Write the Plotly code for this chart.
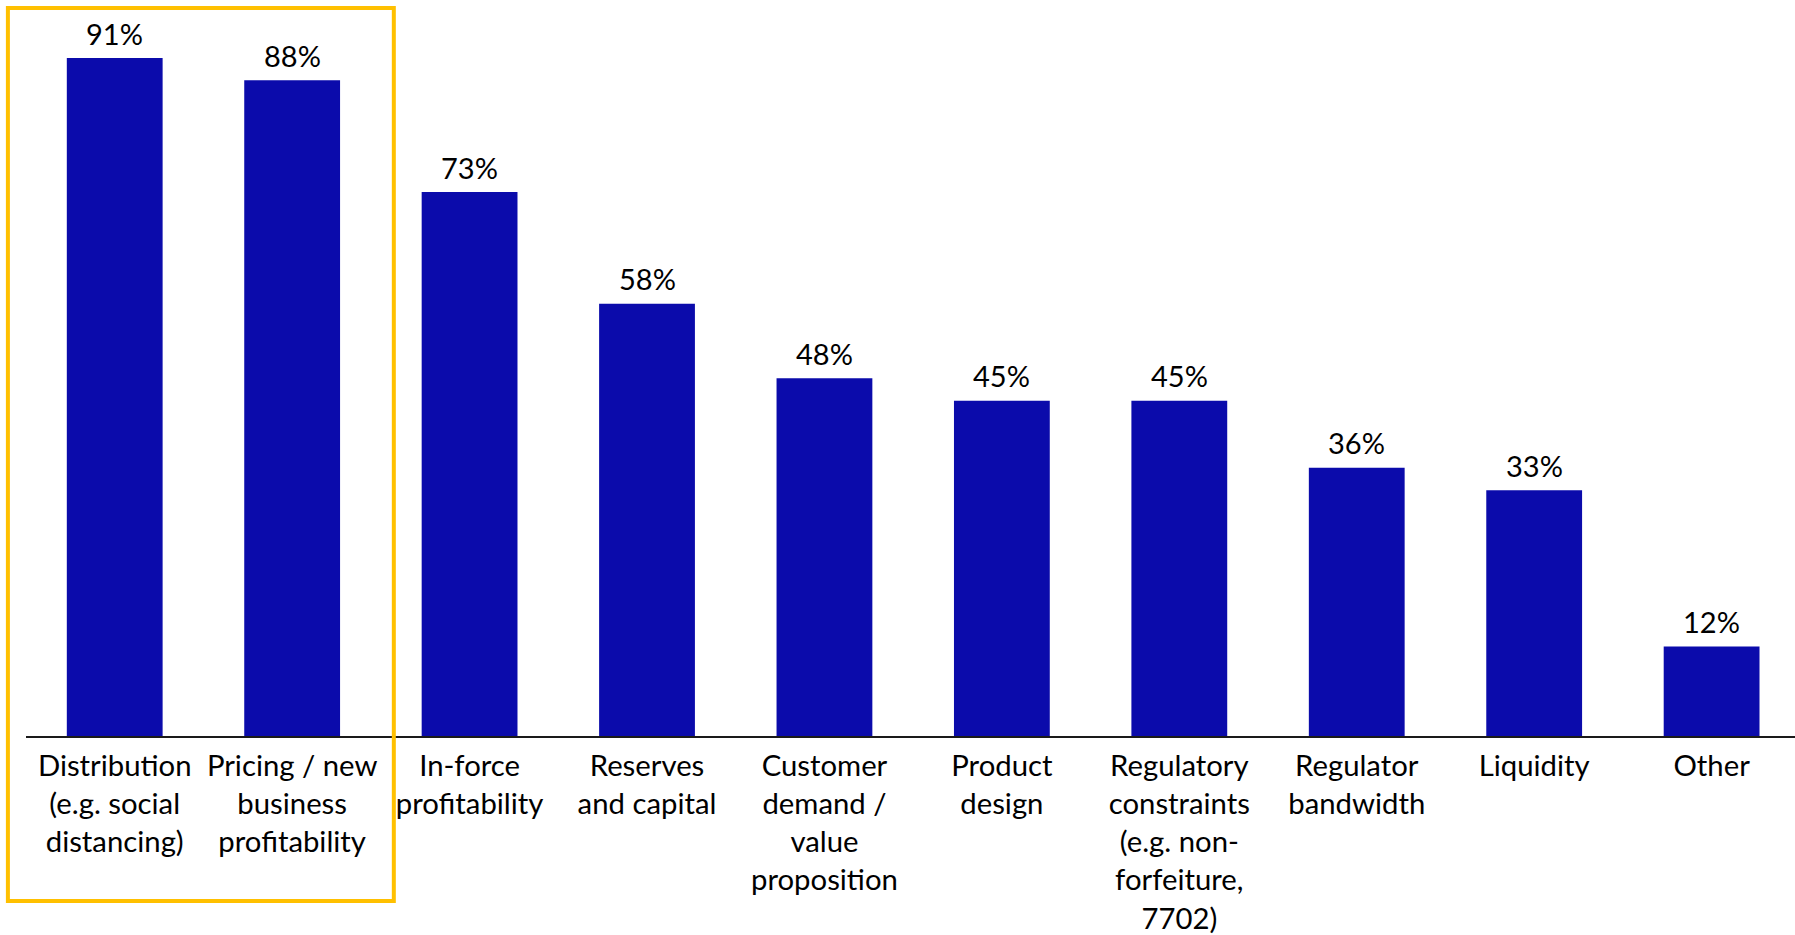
import plotly.graph_objects as go

categories = [
    "Distribution<br>(e.g. social<br>distancing)",
    "Pricing / new<br>business<br>profitability",
    "In-force<br>profitability",
    "Reserves<br>and capital",
    "Customer<br>demand /<br>value<br>proposition",
    "Product<br>design",
    "Regulatory<br>constraints<br>(e.g. non-<br>forfeiture,<br>7702)",
    "Regulator<br>bandwidth",
    "Liquidity",
    "Other",
]
values = [91, 88, 73, 58, 48, 45, 45, 36, 33, 12]
highlighted = 2  # first two categories boxed

BAR_COLOR = "#0B0BAB"
BOX_COLOR = "#FFC000"
FONT = "Lato, 'Open Sans', sans-serif"

idx = list(range(len(categories)))
x_lo, x_hi = -0.5, len(categories) - 0.53
span = x_hi - x_lo

fig = go.Figure(
    go.Bar(
        x=idx,
        y=values,
        marker=dict(color=BAR_COLOR, line=dict(width=0)),
        width=0.54,
        cliponaxis=False,
    )
)

for i, v in zip(idx, values):
    fig.add_annotation(
        x=i, y=v, text=f"{v}%", showarrow=False,
        yanchor="middle", yshift=25,
        font=dict(family=FONT, size=29, color="#000000"),
    )

fig.update_layout(
    width=1795,
    height=935,
    margin=dict(l=26, r=0, t=20, b=199),
    paper_bgcolor="white",
    plot_bgcolor="white",
    showlegend=False,
    font=dict(family=FONT, size=29, color="#000000"),
    xaxis=dict(
        tickmode="array",
        tickvals=idx,
        ticktext=categories,
        tickangle=0,
        range=[x_lo, x_hi],
        showgrid=False,
        zeroline=False,
        showline=True,
        linecolor="#1a1a1a",
        linewidth=2,
        ticks="",
        ticklabelstandoff=3,
        automargin=False,
        tickfont=dict(family=FONT, size=29.3, color="#000000"),
    ),
    yaxis=dict(
        range=[0, 96.1],
        visible=False,
        showgrid=False,
        zeroline=False,
    ),
    shapes=[
        dict(
            type="rect",
            xref="paper",
            yref="paper",
            x0=(-0.602 - x_lo) / span,
            x1=(highlighted - 0.5 + 0.073 - x_lo) / span,
            y0=-0.2304,
            y1=1.0168,
            line=dict(color=BOX_COLOR, width=4),
            fillcolor="rgba(0,0,0,0)",
            layer="above",
        )
    ],
)

fig.write_html(
    "out.html",
    config={"displayModeBar": False},
    post_script="document.body.style.margin='0';document.body.style.overflow='hidden';",
)
